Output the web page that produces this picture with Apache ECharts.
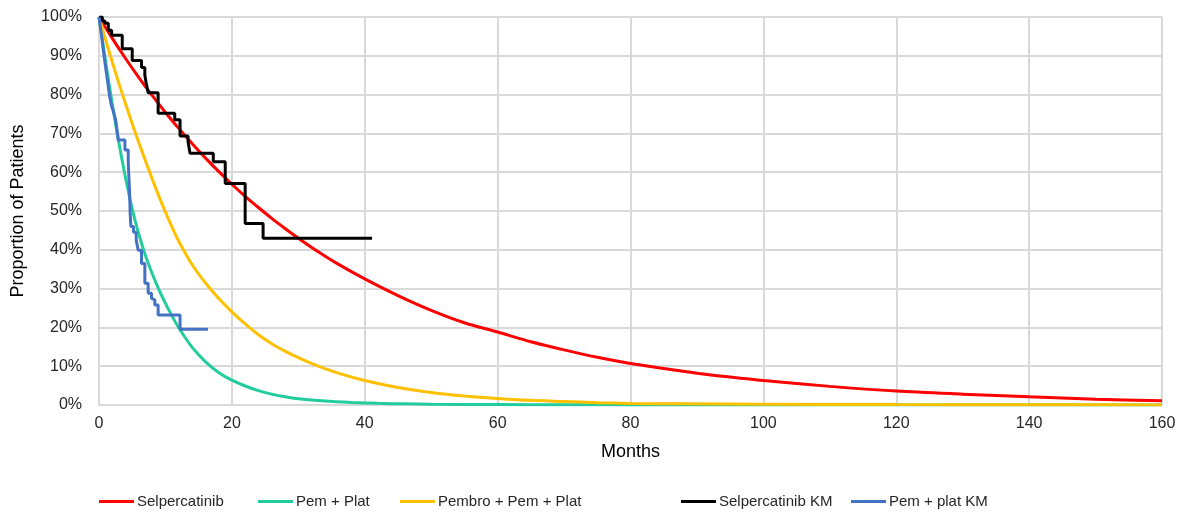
<!DOCTYPE html>
<html>
<head>
<meta charset="utf-8">
<title>Survival extrapolation</title>
<script src="https://cdn.jsdelivr.net/npm/echarts@6/dist/echarts.min.js"></script>
<style>
  html, body { margin: 0; padding: 0; background: #fff; }
  #chart { width: 1186px; height: 512px; }
</style>
</head>
<body>
<div id="chart"></div>
<script>
// months / proportion (%)
const selpMonths = [0, 2, 4, 6, 8, 10, 12, 14, 16, 18, 20, 22, 24, 26, 28, 30, 33, 36, 40, 45, 50, 55, 60, 65, 70, 75, 80, 85, 90, 95, 100, 110, 120, 130, 140, 150, 160]
const selpValues = [100, 94.5, 89.3, 84.4, 79.8, 75.4, 71.3, 67.4, 63.7, 60.2, 56.9, 53.8, 50.9, 48.1, 45.5, 43.0, 39.5, 36.3, 32.5, 28.2, 24.4, 21.2, 18.8, 16.3, 14.2, 12.3, 10.7, 9.4, 8.2, 7.2, 6.3, 4.8, 3.6, 2.8, 2.1, 1.5, 1.1]

const pemMonths = [0, 1, 2, 3, 4, 5, 6, 7, 8, 9, 10, 11, 12, 14, 16, 18, 20, 22, 24, 26, 28, 30, 34, 38, 42, 46, 50, 60, 70, 80, 100, 120, 140, 160]
const pemValues = [100, 88.5, 77.5, 67.5, 58.5, 50.5, 44, 38.5, 33.9, 29.8, 26.2, 22.9, 19.9, 14.9, 11.2, 8.4, 6.4, 4.9, 3.7, 2.8, 2.1, 1.6, 1.0, 0.65, 0.42, 0.3, 0.2, 0.1, 0.05, 0.03, 0.02, 0.01, 0, 0]

const pembroMonths = [0, 1, 2, 3, 4, 5, 6, 7, 8, 9, 10, 11, 12, 14, 16, 18, 20, 22, 24, 26, 28, 30, 33, 36, 40, 45, 50, 55, 60, 65, 70, 75, 80, 88, 100, 120, 140, 160]
const pembroValues = [100, 94.1, 88.4, 82.9, 77.6, 72.5, 67.6, 62.9, 58.3, 53.9, 49.7, 45.8, 42.2, 36.2, 31.5, 27.5, 24.0, 20.9, 18.1, 15.8, 13.9, 12.2, 10.0, 8.2, 6.3, 4.5, 3.2, 2.3, 1.7, 1.2, 0.9, 0.6, 0.4, 0.3, 0.2, 0.1, 0.05, 0.03]

// Kaplan-Meier steps: month of event, proportion after it
const selpKmMonths = [0, 0.5, 0.9, 1.4, 1.9, 3.5, 5.0, 6.4, 6.9, 7.1, 7.4, 8.9, 11.4, 12.2, 13.4, 13.7, 17.2, 19.0, 22.0, 24.7, 41.1]
const selpKmValues = [100, 99, 98.4, 96.6, 95.3, 91.8, 88.8, 87.0, 85.0, 83.0, 80.5, 75.2, 73.5, 69.3, 67.9, 64.9, 62.7, 57.1, 46.8, 43.0, 43.0]

const pemKmMonths = [0, 0.2, 0.4, 0.6, 0.8, 1.0, 1.2, 1.4, 1.6, 1.9, 2.2, 2.5, 2.7, 2.9, 3.9, 4.4, 4.6, 4.7, 4.8, 5.2, 5.6, 5.9, 6.4, 6.9, 7.4, 7.9, 8.15, 8.4, 8.9, 12.2, 16.4]
const pemKmValues = [100, 97.5, 95, 92, 89.5, 87, 84.5, 82, 79.5, 77, 75.5, 73.5, 71, 68.3, 65.7, 62.5, 55, 49, 46, 44.5, 42.5, 39.9, 36.5, 31.4, 28.8, 27.5, 27.1, 25.8, 23.2, 19.5, 19.5]

const xTicks = [0, 20, 40, 60, 80, 100, 120, 140, 160]

function pairs(xs, ys) {
  return xs.map((x, i) => [x, ys[i]])
}

const chart = echarts.init(document.getElementById('chart'))

const legendItem = (name, left) => ({
  data: [name],
  left: left,
  top: 489,
  icon: 'rect',
  itemWidth: 35,
  itemHeight: 3,
  itemGap: 0,
  textStyle: { fontFamily: 'Liberation Sans', fontSize: 15, color: '#262626', padding: [0, 0, 0, -2] }
})

const curve = (name, color, months, values) => ({
  name: name,
  type: 'line',
  smooth: 0.3,
  symbol: 'none',
  lineStyle: { width: 3, color: color },
  itemStyle: { color: color },
  data: pairs(months, values)
})

const km = (name, color, months, values) => ({
  name: name,
  type: 'line',
  step: 'end',
  symbol: 'none',
  lineStyle: { width: 3, color: color },
  itemStyle: { color: color },
  data: pairs(months, values)
})

chart.setOption({
  backgroundColor: '#fff',
  animation: false,
  grid: {
    left: 99,
    right: 24,
    top: 17,
    bottom: 107
  },
  legend: [
    legendItem('Selpercatinib', 94),
    legendItem('Pem + Plat', 253),
    legendItem('Pembro + Pem + Plat', 395),
    legendItem('Selpercatinib KM', 676),
    legendItem('Pem + plat KM', 846)
  ],
  xAxis: {
    type: 'value',
    min: 0,
    max: 160,
    interval: 20,
    name: 'Months',
    nameLocation: 'middle',
    nameGap: 38,
    nameTextStyle: { fontFamily: 'Liberation Sans', fontSize: 18, color: '#000' },
    axisLine: { show: true, lineStyle: { color: '#d9d9d9', width: 2 } },
    axisTick: { show: false },
    axisLabel: {
      margin: 11,
      fontFamily: 'Liberation Sans',
      fontSize: 16,
      color: '#262626',
      formatter: v => (xTicks.indexOf(v) >= 0 ? String(v) : '')
    },
    splitLine: { show: true, lineStyle: { color: '#d9d9d9', width: 2 } }
  },
  yAxis: {
    type: 'value',
    min: 0,
    max: 100,
    interval: 10,
    name: 'Proportion of Patients',
    nameLocation: 'middle',
    nameGap: 72,
    nameTextStyle: { fontFamily: 'Liberation Sans', fontSize: 18, color: '#000' },
    axisLine: { show: true, lineStyle: { color: '#d9d9d9', width: 2 } },
    axisTick: { show: false },
    axisLabel: {
      margin: 17,
      fontFamily: 'Liberation Sans',
      fontSize: 16,
      color: '#262626',
      formatter: '{value}%'
    },
    splitLine: { lineStyle: { color: '#d9d9d9', width: 2 } }
  },
  series: [
    curve('Selpercatinib', '#ff0000', selpMonths, selpValues),
    curve('Pem + Plat', '#22cc9c', pemMonths, pemValues),
    curve('Pembro + Pem + Plat', '#ffc000', pembroMonths, pembroValues),
    km('Selpercatinib KM', '#000000', selpKmMonths, selpKmValues),
    km('Pem + plat KM', '#4472c4', pemKmMonths, pemKmValues)
  ]
})
</script>
</body>
</html>
